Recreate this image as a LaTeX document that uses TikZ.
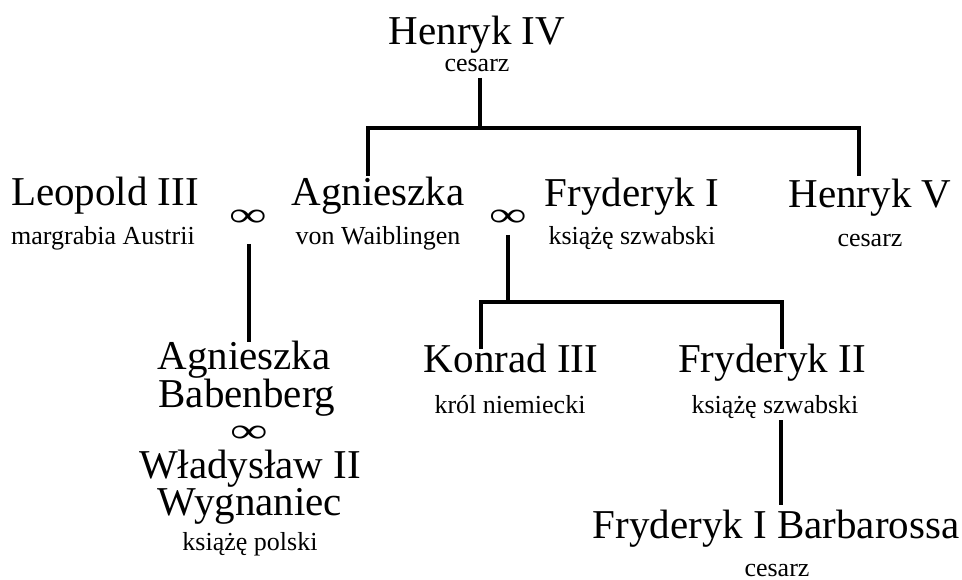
\documentclass[tikz,border=0pt]{standalone}
\usepackage{fontspec}
\setmainfont{Liberation Serif}
\begin{document}
\begin{tikzpicture}[x=1pt,y=-1pt,
  nm/.style={font=\fontsize{41}{41}\selectfont, inner sep=0pt, anchor=base},
  sb/.style={font=\fontsize{26}{26}\selectfont, inner sep=0pt, anchor=base},
  inf/.style={font=\fontsize{12}{12}\selectfont, inner sep=0pt, anchor=center},
  ln/.style={line width=3.5pt, line join=miter}]
\useasboundingbox (0,0) rectangle (962,580);
% top generation
\node[nm] (h4) at (477,45) {Henryk IV};
\node[sb] (h4s) at (477,72) {cesarz};
% second generation
\node[nm] (leo) at (105,206) {Leopold III};
\node[sb] (leos) at (103,245) {margrabia Austrii};
\node[inf] (m1) at (248,218) {\scalebox{4.4}[2.875]{∞}};
\node[nm] (ag) at (378,206) {Agnieszka};
\node[sb] (ags) at (378,245) {von Waiblingen};
\node[inf] (m2) at (508,218) {\scalebox{4.4}[2.875]{∞}};
\node[nm] (fr1) at (632,207) {Fryderyk I};
\node[sb] (fr1s) at (632,245) {książę szwabski};
\node[nm] (h5) at (870,208) {Henryk V};
\node[sb] (h5s) at (870,247) {cesarz};
% third generation
\node[nm] (ab1) at (244,370) {Agnieszka};
\node[nm] (ab2) at (247,407) {Babenberg};
\node[inf] (m3) at (249,434) {\scalebox{4.4}[2.875]{∞}};
\node[nm] (w1) at (250,478) {Władysław II};
\node[nm] (w2) at (250,515) {Wygnaniec};
\node[sb] (ws) at (250,550) {książę polski};
\node[nm] (ko) at (511,372) {Konrad III};
\node[sb] (kos) at (510,413) {król niemiecki};
\node[nm] (fr2) at (772,372) {Fryderyk II};
\node[sb] (fr2s) at (775,413) {książę szwabski};
% fourth generation
\node[nm] (fb) at (776,538) {Fryderyk I Barbarossa};
\node[sb] (fbs) at (777,576) {cesarz};
% connector points
\coordinate (h4d) at (480,78);
\coordinate (j1) at (480,128);
\coordinate (agu) at (368,176);
\coordinate (h5u) at (859,176);
\coordinate (m1d) at (249,244);
\coordinate (ab1u) at (249,342);
\coordinate (m2d) at (508,235);
\coordinate (j2) at (508,302);
\coordinate (kou) at (481,349);
\coordinate (fr2u) at (782,349);
\coordinate (fr2d) at (781,420);
\coordinate (fbu) at (781,505);
% connectors
\draw[ln] (h4d) -- (j1);
\draw[ln] (agu) |- (j1) -| (h5u);
\draw[ln] (m1d) -- (ab1u);
\draw[ln] (m2d) -- (j2);
\draw[ln] (kou) |- (j2) -| (fr2u);
\draw[ln] (fr2d) -- (fbu);
\end{tikzpicture}
\end{document}
